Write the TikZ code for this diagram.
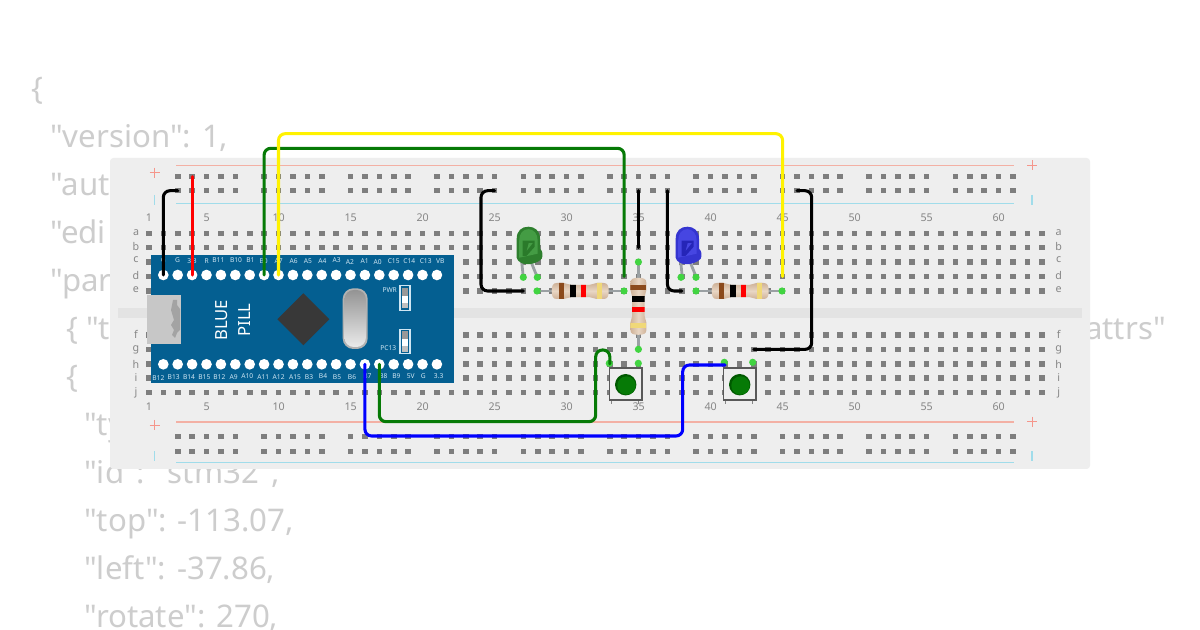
\documentclass[tikz,border=0pt]{standalone}
\usepackage{fontspec}
\setmainfont{Noto Sans}
\newfontfamily\jsonfont{Noto Sans}
\usetikzlibrary{calc}
\definecolor{boardc}{HTML}{EEEEEE}
\definecolor{gutterc}{HTML}{E3E3E3}
\definecolor{holec}{HTML}{7E7E7E}
\definecolor{jsonc}{HTML}{CDCDCD}
\definecolor{labc}{HTML}{868686}
\definecolor{railr}{HTML}{F3B0A4}
\definecolor{railb}{HTML}{A0DCEA}
\definecolor{pillc}{HTML}{045F91}
\definecolor{pinc}{HTML}{41D441}
\definecolor{pillt}{HTML}{CFE6F3}
\definecolor{leadc}{HTML}{9AA0A3}
\definecolor{bodyc}{HTML}{CFB298}
\definecolor{bodyl}{HTML}{E8D6C4}
\definecolor{goldc}{HTML}{F0D878}
\definecolor{brownc}{HTML}{8B4A1C}
\definecolor{wgreen}{HTML}{067A06}
\definecolor{ledga}{HTML}{2E7F2E}
\definecolor{ledgb}{HTML}{449C44}
\definecolor{ledgc}{HTML}{2A7A2A}
\definecolor{ledba}{HTML}{3535D0}
\definecolor{ledbb}{HTML}{4646E2}
\definecolor{ledbc}{HTML}{2525B8}
\tikzset{
  jsontxt/.style={anchor=base west,inner sep=0,text=jsonc,font=\jsonfont\fontsize{23.4pt}{26pt}\selectfont},
  holenode/.style={fill=holec,inner sep=0,minimum size=4.1pt,rectangle},
  lab/.style={inner sep=0,text=labc,font=\fontsize{8pt}{9pt}\selectfont},
  pilllab/.style={inner sep=0,text=pillt,font=\fontsize{5pt}{6pt}\selectfont},
  pinhole/.style={circle,fill=white,inner sep=0,minimum size=8pt},
  gpin/.style={circle,fill=pinc,inner sep=0,minimum size=5.4pt},
  wire/.style={line width=2.3pt,rounded corners=5pt,line cap=round,line join=round},
  lead/.style={draw=leadc,line width=1.9pt},
  railline/.style={line width=1pt},
}
\newcommand{\rbody}{(0,0) .. controls (0,-5) and (1,-8) .. (5,-8) -- (12,-8) .. controls (15,-8) and (16,-6.2) .. (19,-6.2) -- (38,-6.2) .. controls (41,-6.2) and (42,-8) .. (45,-8) -- (52,-8) .. controls (56,-8) and (57,-5) .. (57,0) .. controls (57,5) and (56,8) .. (52,8) -- (45,8) .. controls (42,8) and (41,6.2) .. (38,6.2) -- (19,6.2) .. controls (16,6.2) and (15,8) .. (12,8) -- (5,8) .. controls (1,8) and (0,5) .. (0,0) -- cycle}
\newcommand{\resistorbody}[2]{%
  \begin{scope}[#1]
    \draw[lead] (-14.7,0) -- (71.7,0);
    \path[#2] \rbody;
    \begin{scope}
      \clip \rbody;
      \fill[brownc] (7.6,-9) rectangle (12.6,9);
      \fill[black] (18.5,-9) rectangle (24,9);
      \fill[red] (29.2,-9) rectangle (34.7,9);
      \fill[goldc] (45.5,-9) rectangle (50.5,9);
    \end{scope}
  \end{scope}}
\newcommand{\ledbody}[4]{%
  \begin{scope}[shift={(#1,226.7)}]
    \draw[lead,line width=2.1pt] (5,35) -- (6.6,50.6);
    \draw[lead,line width=2.1pt] (14.3,35) -- (20.6,50.6);
    \fill[#2] (0,31) -- (0,12) .. controls (0,4) and (5,0) .. (11.7,0) .. controls (18,0) and (23.3,4) .. (23.3,12) -- (23.3,22) .. controls (26,24) and (26.5,29) .. (25,32) .. controls (22,36) and (14,38) .. (9,37.5) .. controls (5,37) and (1,35) .. (0,31) -- cycle;
    \fill[#3] (2.5,14) .. controls (2.5,7) and (6,2.5) .. (11.7,2.5) .. controls (17,2.5) and (21,7) .. (21,14) -- (21,27) -- (2.5,31) -- cycle;
    \fill[#4] (6,14) -- (18,14) -- (18,20) -- (10,29) -- (6,29.5) -- cycle;
    \fill[#3] (12,16.5) -- (16,16.5) -- (10,24) -- cycle;
  \end{scope}}
\newcommand{\buttonbody}[1]{%
  \begin{scope}[shift={(#1,368.3)}]
    \draw[labc,line width=.7pt] (2,31.7) -- (2,35.5) (29.5,31.7) -- (29.5,35.5);
    \draw[draw=black!65,fill=boardc,line width=1.2pt] (0,0) rectangle (32.4,31.7);
    \fill[green!35!black] (16.4,16.4) circle (10.7);
    \fill[wgreen] (17.2,17.2) circle (9.2);
  \end{scope}}
\begin{document}
\begin{tikzpicture}[x=0.75pt,y=-0.75pt]
\useasboundingbox (0,0) rectangle (1200,630);
\fill[white] (0,0) rectangle (1200,630);
% background text
\node[jsontxt] (j0) at (31,100) {\{};
\node[jsontxt] (j1) at (50,148) {"version": 1,};
\node[jsontxt] (j2) at (50,196) {"aut};
\node[jsontxt] (j3) at (50,244) {"edi};
\node[jsontxt] (j4) at (50,292) {"par};
\node[jsontxt] (j5) at (66,340) {\{ "t};
\node[jsontxt,anchor=base east] (j5b) at (1166,340) {"attrs"};
\node[jsontxt] (j6) at (66,388) {\{};
\node[jsontxt] (j7) at (84,436) {"ty};
\node[jsontxt] (j8) at (84,484) {"id": "stm32",};
\node[jsontxt] (j9) at (84,532) {"top": -113.07,};
\node[jsontxt] (j10) at (84,580) {"left": -37.86,};
\node[jsontxt] (j11) at (84,628) {"rotate": 270,};
% board
\fill[boardc,rounded corners=2.5pt] (110,158) rectangle (1090,469);
\fill[gutterc] (118,307.7) rectangle (1082,317.7);
\draw[railr,railline] (176,165.5) -- (1014,165.5) (176,422) -- (1014,422);
\draw[railb,railline] (176,203.3) -- (1014,203.3) (176,462.7) -- (1014,462.7);
\foreach \x/\y in {154.7/172.7,1032/165.5,154.7/425,1032/421.7}
  \draw[railr!85!red,line width=.7pt] (\x-5,\y) -- (\x+5,\y) (\x,\y-5) -- (\x,\y+5);
\foreach \x/\y in {154.7/200,1032/200,154.7/456.5,1032/456.5}
  \draw[railb,line width=.9pt] (\x,\y-5) -- (\x,\y+5);
% holes
\foreach \c in {1,...,63}
  \foreach \r/\y in {a/233.3,b/247.7,c/262.1,d/276.5,e/291,f/335,g/349.4,h/363.8,i/378.2,j/392.6}
    \node[holenode] (h\r\c) at ({149+14.4*(\c-1)},\y) {};
\foreach \g in {3,9,...,57}
  \foreach \o in {0,...,4}{
    \pgfmathtruncatemacro{\c}{\g+\o}
    \foreach \r/\y in {ra/176.7,rb/190.7,rc/436.7,rd/451.7}
      \node[holenode] (\r\c) at ({149+14.4*(\c-1)},\y) {};
  }
% numbers and letters
\foreach \n in {1,5,10,15,...,60}{
  \node[lab] (nt\n) at ({149+14.4*(\n-1)},218) {\n};
  \node[lab] (nb\n) at ({149+14.4*(\n-1)},407) {\n};
}
\foreach \r/\y in {a/233,b/247,c/260,d/275.5,e/289.7,f/334,g/350,h/364,i/378,j/393}{
  \node[lab] (ll\r) at (136,\y) {\r};
  \node[lab] (lr\r) at (1058.7,\y) {\r};
}
% blue pill
\fill[pillc] (150.5,255) rectangle (454,383.3);
\foreach \i in {1,...,20}{
  \node[pinhole] (pt\i) at ({163.3+14.4*(\i-1)},275) {};
  \node[pinhole] (pb\i) at ({163.3+14.4*(\i-1)},364.3) {};
}
\foreach \x/\y/\t in {190/421/G,233/421/G,276/423/3.3,320/423/R,355/421/B11,408/421/B10,451/421/B1,491/423/B0,536/423/A7,581/423/A6,624/423/A5,667/423/A4,710/421/A3,750/425/A2,794/424/A1,833/425/A0,881/424/C15,928/424/C14,977/424/C13,1021/423/VB}
  \node[pilllab] (lt\t\x) at ({\x/3+100},{\y/3+120}) {\t};
\foreach \x/\y/\t in {175/263/B12,221/262/B13,267/262/B14,313/262/B15,358/260/B12,401/260/A9,442/259/A10,490/260/A11,536/260/A12,585/261/A15,627/260/B3,669/258/B4,711/261/B5,756/260/B6,802/258/B7,850/258/B8,889/259/B9,932/258/5V,970/259/G,1016/259/3.3}
  \node[pilllab] (lb\t\x) at ({\x/3+100},{\y/3+290}) {\t};
% usb
\fill[black!22] (146.7,295) rectangle (181,344);
\fill[black!36] (173,300) -- (177,300) -- (177,305) -- (180,309) -- (180,330) -- (177,333) -- (175,338) -- (172,335) -- (174,330) -- (171,325) -- (174,320) -- (171,310) -- cycle;
\node[rotate=90,inner sep=0,text=white,font=\fontsize{12.5pt}{14pt}\selectfont] (blue) at (221.7,320.3) {BLUE};
\node[rotate=90,inner sep=0,text=white,font=\fontsize{12.5pt}{14pt}\selectfont] (pill) at (244.3,320) {PILL};
\fill[black!78] (303.3,293.3) -- (329.3,319.3) -- (303.3,345.3) -- (277.3,319.3) -- cycle;
% crystal
\fill[black!30,rounded corners=8pt] (342.7,288.3) rectangle (367.7,349);
\shade[top color=black!42,bottom color=black!8,rounded corners=7pt] (344.5,290) rectangle (365.9,347);
% switches
\foreach \t/\yy/\lx/\ly in {PWR/285.7/389.7/290,PC13/329.3/388.3/348}{
  \draw[pillt,line width=.9pt] (400,\yy) rectangle (410,\yy+24.5);
  \fill[black!40] (402,\yy+2) rectangle (408,\yy+10);
  \fill[white] (402,\yy+10) rectangle (408,\yy+17);
  \fill[black!25] (402,\yy+17) rectangle (408,\yy+22.5);
  \node[pilllab] (sw\t) at (\lx,\ly) {\t};
}
% leds
\ledbody{516.7}{ledga}{ledgb}{ledgc}
\ledbody{675.7}{ledba}{ledbb}{ledbc}
\foreach \n/\x in {g1/523.3,g2/537.3,b1/681,b2/696}
  \node[gpin] (led\n) at (\x,277.3) {};
% resistors
\resistorbody{shift={(551.7,291)}}{top color=bodyc,bottom color=bodyc,middle color=bodyl}
\resistorbody{shift={(711.7,291)}}{top color=bodyc,bottom color=bodyc,middle color=bodyl}
\resistorbody{shift={(638.4,277.8)},rotate=-90}{left color=bodyc,right color=bodyc,middle color=bodyl}
\foreach \n/\x/\y in {r1a/537/291,r1b/624/291,r2a/696/291,r2b/782/291,r3a/638.4/262,r3b/638.4/349.3}
  \node[gpin] (\n) at (\x,\y) {};
% buttons
\buttonbody{609.3}
\buttonbody{723.3}
\foreach \n/\x/\y in {s1a/609.3/363.3,s1b/638.3/363.3,s2a/724.3/362.3,s2b/752.7/362.3}
  \node[gpin] (\n) at (\x,\y) {};
% wires
\coordinate (ctopg) at (0,148.3);
\coordinate (ctopy) at (0,133.7);
\coordinate (cblk2) at (481,0);
\coordinate (cblk5) at (811.7,0);
\coordinate (cgy) at (0,421.7);
\coordinate (cgx) at (595.7,0);
\coordinate (cgh) at (0,350);
\coordinate (cbly) at (0,436);
\coordinate (cblx) at (682.7,0);
\coordinate (cblh) at (0,365);
\draw[wire,black] (pt1.center) |- (rb3.center);
\draw[wire,red] (pt3.center) -- (pt3 |- ra3);
\draw[wire,wgreen] (pt8.center) -- (pt8 |- ctopg) -- (hd34 |- ctopg) -- (hd34.center);
\draw[wire,yellow] (pt9.center) -- (pt9 |- ctopy) -- (hd45 |- ctopy) -- (hd45.center);
\draw[wire,black] (rb25.center) -- (cblk2 |- rb25) -- (cblk2 |- he27) -- (he27.center);
\draw[wire,black] (rb35.center) -- (hb35.center);
\draw[wire,black] (rb37.center) |- (he38.center);
\draw[wire,black] (rb46.center) -- (cblk5 |- rb46) -- (cblk5 |- hg43) -- (hg43.center);
\draw[wire,wgreen] (pb16.center) -- (pb16 |- cgy) -- (cgx |- cgy) -- (cgx |- cgh) -- (hh33 |- cgh) -- (hh33.center);
\draw[wire,blue] (pb15.center) -- (pb15 |- cbly) -- (cblx |- cbly) -- (cblx |- cblh) -- (hh41 |- cblh);
\end{tikzpicture}
\end{document}
